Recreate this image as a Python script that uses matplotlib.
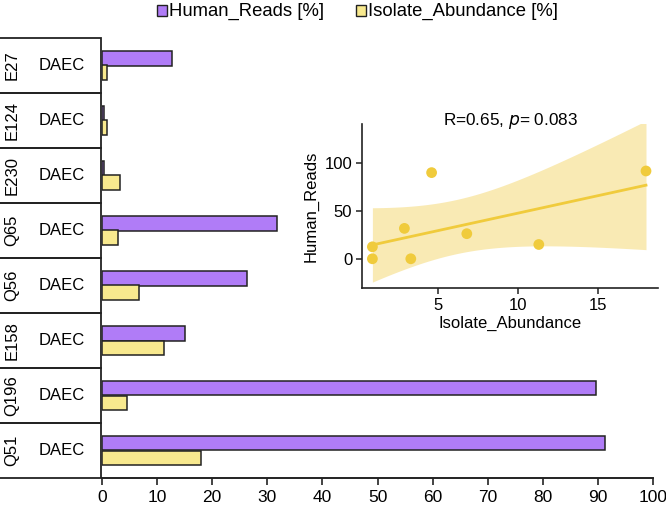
import numpy as np
import matplotlib
matplotlib.use('Agg')
import matplotlib.pyplot as plt
from matplotlib.patches import Rectangle

plt.rcParams['font.family'] = ['Liberation Sans', 'DejaVu Sans']

PURPLE = '#B07CF7'; YELLOW = '#F8E98E'; GOLD = '#F0CB3C'; BAND = '#F9E8AC'

samples = ['E27', 'E124', 'E230', 'Q65', 'Q56', 'E158', 'Q196', 'Q51']
group = 'DAEC'
human_reads = [12.7, 0.3, 0.3, 31.8, 26.3, 15.1, 89.6, 91.3]
isolate_abund = [0.9, 0.9, 3.3, 2.9, 6.8, 11.3, 4.6, 18.0]
x_ticks = [0, 10, 20, 30, 40, 50, 60, 70, 80, 90, 100]
corr_text = 'R=0.65, '

W, H = 666, 505
fig = plt.figure(figsize=(W / 100, H / 100), dpi=100)

def fx(px): return px / W
def fy(py): return 1 - py / H

# ---- bar panel ----
ax = fig.add_axes([fx(102), fy(478), fx(653 - 102), fy(38) - fy(478)])
n = len(samples)
ypos = np.arange(n)[::-1]
bh = 0.27
ax.barh(ypos + bh / 2, human_reads, height=bh, color=PURPLE, edgecolor='#222222', linewidth=1.1)
ax.barh(ypos - bh / 2, isolate_abund, height=bh, color=YELLOW, edgecolor='#222222', linewidth=1.1)
ax.set_xlim(0, 100)
ax.set_ylim(-0.5, n - 0.5)
for s in ['top', 'right', 'left']:
    ax.spines[s].set_visible(False)
ax.spines['bottom'].set_linewidth(1.4)
ax.spines['bottom'].set_color('#222222')
ax.set_yticks([])
ax.set_xticks(x_ticks)
ax.tick_params(axis='x', length=5, width=1.2, labelsize=12.5, pad=4, color='#222222')

# ---- label strip ----
lab = fig.add_axes([0, fy(478), fx(102), fy(38) - fy(478)])
lab.set_xlim(0, 1); lab.set_ylim(-0.5, n - 0.5)
lab.axis('off')
for i, name in enumerate(samples):
    y = ypos[i]
    lab.add_patch(Rectangle((-0.02, y - 0.5), 1.01, 1.0, fill=False,
                            edgecolor='#222222', linewidth=1.3, clip_on=False))
    lab.text(0.12, y, name, rotation=90, ha='center', va='center', fontsize=12)
    lab.text(0.61, y, group, ha='center', va='center', fontsize=12)

# ---- legend ----
fig.patches.append(Rectangle((fx(157), fy(16)), fx(10), fy(5) - fy(16), transform=fig.transFigure,
                             facecolor=PURPLE, edgecolor='#222222', linewidth=1))
fig.text(fx(169), fy(11), 'Human_Reads [%]', fontsize=13.3, va='center', ha='left')
fig.patches.append(Rectangle((fx(356), fy(16)), fx(10), fy(5) - fy(16), transform=fig.transFigure,
                             facecolor=YELLOW, edgecolor='#222222', linewidth=1))
fig.text(fx(368), fy(11), 'Isolate_Abundance [%]', fontsize=13.3, va='center', ha='left')

# ---- inset scatter with linear fit ----
ins = fig.add_axes([fx(362), fy(288), fx(658 - 362), fy(124) - fy(288)])
xs = np.array(isolate_abund); ys = np.array(human_reads)
slope, icpt = np.polyfit(xs, ys, 1)
xg = np.linspace(xs.min(), xs.max(), 100)
yg = icpt + slope * xg
resid = ys - (icpt + slope * xs)
dof = len(xs) - 2
se = np.sqrt(np.sum(resid ** 2) / dof)
sxx = np.sum((xs - xs.mean()) ** 2)
tcrit = 2.447  # t(0.975, df=6)
half = tcrit * se * np.sqrt(1 / len(xs) + (xg - xs.mean()) ** 2 / sxx)
ins.fill_between(xg, yg - half, yg + half, color=BAND, alpha=0.9, linewidth=0, zorder=1)
ins.plot(xg, yg, color=GOLD, linewidth=2, zorder=2)
ins.scatter(xs, ys, s=60, color=GOLD, edgecolor='none', zorder=3)
ins.set_xlim(0.25, 18.75)
ins.set_ylim(-30, 140)
ins.set_xticks([5, 10, 15])
ins.set_yticks([0, 50, 100])
ins.set_facecolor('none')
for s in ['top', 'right']:
    ins.spines[s].set_visible(False)
for s in ['left', 'bottom']:
    ins.spines[s].set_linewidth(1.2)
    ins.spines[s].set_color('#222222')
ins.tick_params(length=4, width=1.1, labelsize=12, pad=3, color='#222222')
ins.set_xlabel('Isolate_Abundance', fontsize=12, labelpad=2)
ins.set_ylabel('Human_Reads', fontsize=12, labelpad=4)
ins.text(0.5, 1.02, corr_text + r'$p$= 0.083', transform=ins.transAxes,
         ha='center', va='center', fontsize=12.3)

fig.savefig('out.png', dpi=100)
